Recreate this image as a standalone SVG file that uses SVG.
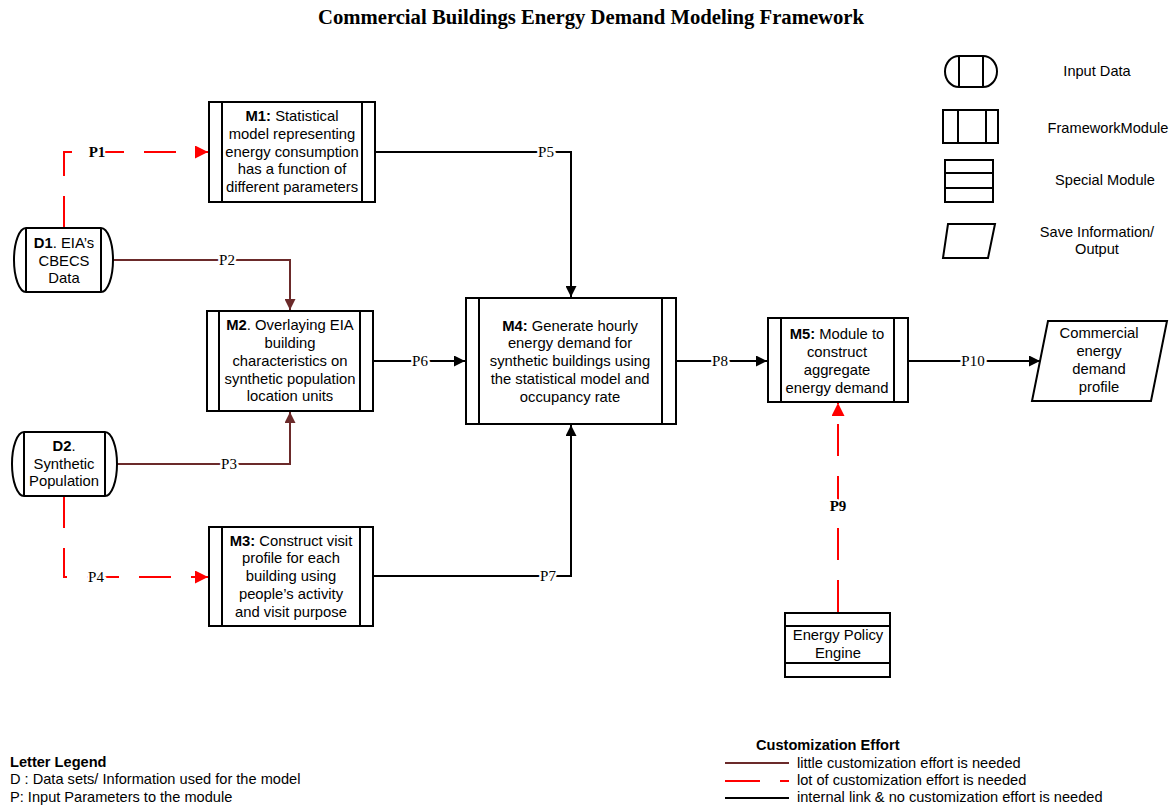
<svg xmlns="http://www.w3.org/2000/svg" width="1170" height="808" viewBox="0 0 1170 808">
<defs>
<style>
.box{fill:#fff;stroke:#000;stroke-width:2}
.ln{fill:none;stroke:#000;stroke-width:2}
.t{font-family:"Liberation Sans",Arial,sans-serif;font-size:14.8px;fill:#000;text-anchor:middle}
.lg{font-family:"Liberation Sans",Arial,sans-serif;font-size:14.6px;fill:#000}
.pl{font-family:"Liberation Serif","Times New Roman",serif;font-size:15px;fill:#000;text-anchor:middle;dominant-baseline:central;stroke:#fff;stroke-width:5;paint-order:stroke}
.blk{fill:none;stroke:#000;stroke-width:2}
.brn{fill:none;stroke:#6B2A2A;stroke-width:2}
.red{fill:none;stroke:#FF0000;stroke-width:2;stroke-dasharray:32 20}
</style>
<marker id="ab" viewBox="0 0 10 10" refX="10" refY="5" markerWidth="11" markerHeight="11" markerUnits="userSpaceOnUse" orient="auto"><path d="M0,0 L10,5 L0,10 z" fill="#000"/></marker>
<marker id="an" viewBox="0 0 10 10" refX="10" refY="5" markerWidth="11" markerHeight="11" markerUnits="userSpaceOnUse" orient="auto"><path d="M0,0 L10,5 L0,10 z" fill="#6B2A2A"/></marker>
<marker id="ar" viewBox="0 0 10 10" refX="10" refY="5" markerWidth="13" markerHeight="13" markerUnits="userSpaceOnUse" orient="auto"><path d="M0,0 L10,5 L0,10 z" fill="#FF0000"/></marker>
</defs>
<rect width="1170" height="808" fill="#fff"/>
<text x="591" y="24" font-family="'Liberation Serif','Times New Roman',serif" font-size="20.7" font-weight="bold" text-anchor="middle">Commercial Buildings Energy Demand Modeling Framework</text>

<g id="connectors">
<path class="red" d="M64,228 V152 H208" marker-end="url(#ar)"/>
<path class="brn" d="M113,260 H290 V310" marker-end="url(#an)"/>
<path class="brn" d="M117,464 H290 V412" marker-end="url(#an)"/>
<path class="red" d="M64,496 V577 H208" marker-end="url(#ar)"/>
<path class="blk" d="M375,152 H571 V297" marker-end="url(#ab)"/>
<path class="blk" d="M373,361 H465" marker-end="url(#ab)"/>
<path class="blk" d="M373,576 H571 V425" marker-end="url(#ab)"/>
<path class="blk" d="M676,361 H767" marker-end="url(#ab)"/>
<path class="blk" d="M908,361 H1040" marker-end="url(#ab)"/>
<path class="red" d="M838,612 V403" marker-end="url(#ar)"/>
<text class="pl" x="97" y="152" font-weight="bold">P1</text>
<text class="pl" x="227" y="260">P2</text>
<text class="pl" x="229" y="464">P3</text>
<text class="pl" x="96" y="577">P4</text>
<text class="pl" x="546" y="152">P5</text>
<text class="pl" x="420" y="361">P6</text>
<text class="pl" x="548" y="576">P7</text>
<text class="pl" x="720" y="361">P8</text>
<text class="pl" x="838" y="506" font-weight="bold">P9</text>
<text class="pl" x="973" y="361">P10</text>
</g>

<g id="D1">
<path class="box" d="M26,228 H101 A12,32 0 0 1 101,292 H26 A12,32 0 0 1 26,228 Z"/>
<path class="ln" d="M26,228 V292 M101,228 V292"/>
<text class="t" x="64" y="248"><tspan font-weight="bold">D1</tspan>. EIA’s</text>
<text class="t" x="64" y="266">CBECS</text>
<text class="t" x="64" y="283">Data</text>
</g>

<g id="D2">
<path class="box" d="M24,432 H105 A12,32 0 0 1 105,496 H24 A12,32 0 0 1 24,432 Z"/>
<path class="ln" d="M24,432 V496 M105,432 V496"/>
<text class="t" x="64" y="451"><tspan font-weight="bold">D2</tspan>.</text>
<text class="t" x="64" y="469">Synthetic</text>
<text class="t" x="64" y="486">Population</text>
</g>

<g id="M1">
<rect class="box" x="209" y="102" width="166" height="100"/>
<path class="ln" d="M222,102 V202 M362,102 V202"/>
<text class="t" x="292" y="121"><tspan font-weight="bold">M1:</tspan> Statistical</text>
<text class="t" x="292" y="139">model representing</text>
<text class="t" x="292" y="157">energy consumption</text>
<text class="t" x="292" y="174">has a function of</text>
<text class="t" x="292" y="192">different parameters</text>
</g>

<g id="M2">
<rect class="box" x="207" y="311" width="166" height="100"/>
<path class="ln" d="M219,311 V411 M360,311 V411"/>
<text class="t" x="290" y="330"><tspan font-weight="bold">M2</tspan>. Overlaying EIA</text>
<text class="t" x="290" y="348">building</text>
<text class="t" x="290" y="366">characteristics on</text>
<text class="t" x="290" y="384">synthetic population</text>
<text class="t" x="290" y="401">location units</text>
</g>

<g id="M3">
<rect class="box" x="209" y="527" width="164" height="99"/>
<path class="ln" d="M222,527 V626 M360,527 V626"/>
<text class="t" x="291" y="546"><tspan font-weight="bold">M3:</tspan> Construct visit</text>
<text class="t" x="291" y="563">profile for each</text>
<text class="t" x="291" y="581">building using</text>
<text class="t" x="291" y="599">people’s activity</text>
<text class="t" x="291" y="617">and visit purpose</text>
</g>

<g id="M4">
<rect class="box" x="466" y="298" width="210" height="126"/>
<path class="ln" d="M479,298 V424 M662,298 V424"/>
<text class="t" x="570" y="331"><tspan font-weight="bold">M4:</tspan> Generate hourly</text>
<text class="t" x="570" y="348">energy demand for</text>
<text class="t" x="570" y="366">synthetic buildings using</text>
<text class="t" x="570" y="384">the statistical model and</text>
<text class="t" x="570" y="402">occupancy rate</text>
</g>

<g id="M5">
<rect class="box" x="768" y="318" width="140" height="84"/>
<path class="ln" d="M781,318 V402 M894,318 V402"/>
<text class="t" x="837" y="339"><tspan font-weight="bold">M5:</tspan> Module to</text>
<text class="t" x="837" y="357">construct</text>
<text class="t" x="837" y="375">aggregate</text>
<text class="t" x="837" y="393">energy demand</text>
</g>

<g id="Output">
<path class="box" d="M1048,321 H1167 L1151,401 H1032 Z"/>
<text class="t" x="1099" y="338">Commercial</text>
<text class="t" x="1099" y="356">energy</text>
<text class="t" x="1099" y="374">demand</text>
<text class="t" x="1099" y="392">profile</text>
</g>

<g id="EPE">
<rect class="box" x="785" y="613" width="105" height="64"/>
<path class="ln" d="M785,626 H890 M785,663 H890"/>
<text class="t" x="838" y="640">Energy Policy</text>
<text class="t" x="838" y="658">Engine</text>
</g>

<g id="shape-legend">
<path class="box" d="M959,56 H983 A14,15.5 0 0 1 983,87 H959 A14,15.5 0 0 1 959,56 Z"/>
<path class="ln" d="M959,56 V87 M983,56 V87"/>
<text class="lg" x="1097" y="76" text-anchor="middle">Input Data</text>
<rect class="box" x="943" y="110" width="55" height="33"/>
<path class="ln" d="M958,110 V143 M986,110 V143"/>
<text class="lg" x="1108" y="133" text-anchor="middle">FrameworkModule</text>
<rect class="box" x="945" y="160" width="48" height="42"/>
<path class="ln" d="M945,173 H993 M945,188 H993"/>
<text class="lg" x="1105" y="185" text-anchor="middle">Special Module</text>
<path class="box" d="M948,224 H995 L988,258 H943 Z"/>
<text class="lg" x="1097" y="237" text-anchor="middle">Save Information/</text>
<text class="lg" x="1097" y="254" text-anchor="middle">Output</text>
</g>

<g id="letter-legend">
<text class="lg" x="10" y="767" font-weight="bold">Letter Legend</text>
<text class="lg" x="10" y="784">D : Data sets/ Information used for the model</text>
<text class="lg" x="10" y="802">P:  Input Parameters to the module</text>
</g>

<g id="effort-legend">
<text class="lg" x="756" y="750" font-weight="bold">Customization Effort</text>
<path d="M725,763 H789" stroke="#6B2A2A" stroke-width="2"/>
<path d="M725,781 H760 M780,781 H789" stroke="#FF0000" stroke-width="2"/>
<path d="M725,798 H789" stroke="#000" stroke-width="2"/>
<text class="lg" x="797" y="768">little customization effort is needed</text>
<text class="lg" x="797" y="785">lot of customization effort is needed</text>
<text class="lg" x="797" y="802">internal link &amp; no customization effort is needed</text>
</g>
</svg>
